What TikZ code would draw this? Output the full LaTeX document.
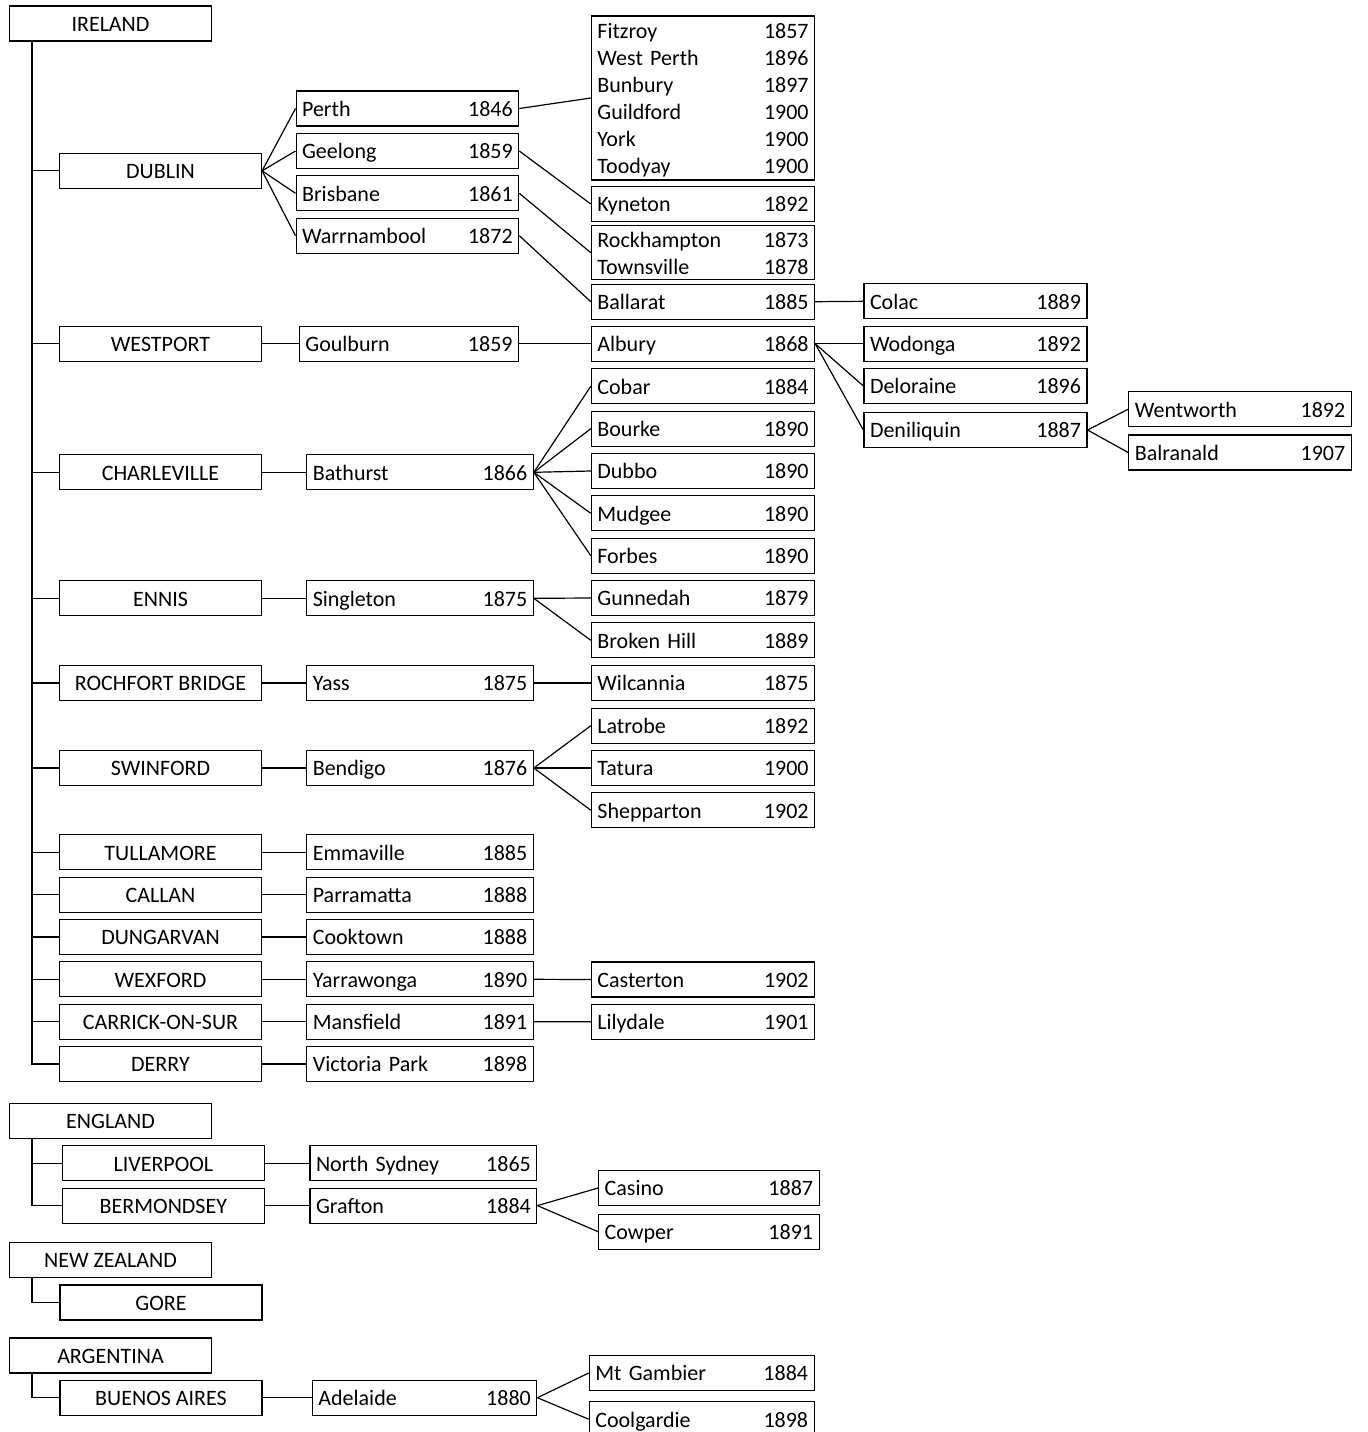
\documentclass[tikz,border=0pt]{standalone}
\usepackage{fontspec}
\setmainfont{Carlito}
\usetikzlibrary{positioning,calc}
\newcommand{\tstrut}{\rule[-2.8pt]{0pt}{13.5pt}}
\newcommand{\yrfill}{\hskip 0pt plus 1filll\relax}
\tikzstyle{region}=[rectangle,draw,minimum width=101pt,minimum height=17.5pt,inner sep=0pt,execute at begin node=\tstrut]
\tikzset{town/.style={rectangle,draw,text width=#1,minimum height=17.5pt,inner xsep=3pt,inner ysep=0pt,align=left,
	execute at begin node=\tstrut,execute at end node=\tstrut}}
\begin{document}
\begin{tikzpicture}[x=0.5pt,y=-0.5pt,line width=0.6pt,font=\fontsize{11}{13.5}\selectfont]
\useasboundingbox (0,0) rectangle (1368,1432);
%-------------------------start region code ---------------------
	\node[region] (ireland) at (110.5,23.5) {IRELAND};
	\node[region] (england) at (110.5,1121) {ENGLAND};
	\node[region] (newzealand) at (110.5,1260) {NEW ZEALAND};
	\node[region] (argentina) at (110.5,1355.5) {ARGENTINA};

	%Irish towns
	\node[region] (dublin) at (160.5,170.8) {DUBLIN};
	\node[region] (westport) at (160.5,343.7) {WESTPORT};
	\node[region] (charleville) at (160.5,472.3) {CHARLEVILLE};
	\node[region] (ennis) at (160.5,598.3) {ENNIS};
	\node[region] (rochfort) at (160.5,683) {ROCHFORT BRIDGE};
	\node[region] (swinford) at (160.5,768) {SWINFORD};
	\node[region] (tullamore) at (160.5,852.3) {TULLAMORE};
	\node[region] (callan) at (160.5,894.7) {CALLAN};
	\node[region] (dungarvan) at (160.5,937) {DUNGARVAN};
	\node[region] (wexford) at (160.5,979.3) {WEXFORD};
	\node[region] (carrick) at (160.5,1021.7) {CARRICK-ON-SUR};
	\node[region] (derry) at (160.5,1064) {DERRY};

	%Other towns
	\node[region] (liverpool) at (163.4,1163.3) {LIVERPOOL};
	\node[region] (bermondsey) at (163.4,1205.6) {BERMONDSEY};
	\node[region] (gore) at (161,1302.5) {GORE};
	\node[region] (buenosaires) at (161,1397.7) {BUENOS AIRES};
%-------------------------end region code -----------------------
%-------------------------start foundation code ------------------
	%Dublin
	\node[town=105.3pt] (perth) at (407.4,108.5) {Perth\yrfill 1846};
	\node[town=105.3pt] (geelong) at (407.4,151) {Geelong\yrfill 1859};
	\node[town=105.3pt] (brisbane) at (407.4,193.3) {Brisbane\yrfill 1861};
	\node[town=105.3pt] (warrnambool) at (407.4,235.7) {Warrnambool\yrfill 1872};
	\node[town=105.6pt,minimum height=82pt] (fitzroy) at (703,98) {Fitzroy\yrfill 1857\\West Perth\yrfill 1896\\Bunbury\yrfill 1897\\Guildford\yrfill 1900\\York\yrfill 1900\\Toodyay\yrfill 1900};
	\node[town=105.6pt] (kyneton) at (703,204) {Kyneton\yrfill 1892};
	\node[town=105.6pt,minimum height=24pt] (rockhampton) at (703,252.7) {Rockhampton\yrfill 1873\\Townsville\yrfill 1878};
	\node[town=105.6pt] (ballarat) at (703,301.7) {Ballarat\yrfill 1885};
	\node[town=105.5pt] (colac) at (975.5,301.3) {Colac\yrfill 1889};

	%Westport
	\node[town=103.6pt] (goulburn) at (409,343.7) {Goulburn\yrfill 1859};
	\node[town=105.6pt] (albury) at (703,343.7) {Albury\yrfill 1868};
	\node[town=105.5pt] (wodonga) at (975.5,343.7) {Wodonga\yrfill 1892};
	\node[town=105.5pt] (deloraine) at (975.5,386) {Deloraine\yrfill 1896};
	\node[town=105.5pt] (deniliquin) at (975.5,430) {Deniliquin\yrfill 1887};
	\node[town=105.2pt] (wentworth) at (1240,409.2) {Wentworth\yrfill 1892};
	\node[town=105.2pt] (balranald) at (1240,452.5) {Balranald\yrfill 1907};

	%Charleville
	\node[town=107.2pt] (bathurst) at (420,472.3) {Bathurst\yrfill 1866};
	\node[town=105.6pt] (cobar) at (703,386.2) {Cobar\yrfill 1884};
	\node[town=105.6pt] (bourke) at (703,428.7) {Bourke\yrfill 1890};
	\node[town=105.6pt] (dubbo) at (703,471) {Dubbo\yrfill 1890};
	\node[town=105.6pt] (mudgee) at (703,513.3) {Mudgee\yrfill 1890};
	\node[town=105.6pt] (forbes) at (703,555.7) {Forbes\yrfill 1890};

	%Ennis
	\node[town=107.2pt] (singleton) at (420,598.3) {Singleton\yrfill 1875};
	\node[town=105.6pt] (gunnedah) at (703,598) {Gunnedah\yrfill 1879};
	\node[town=105.6pt] (brokenhill) at (703,640.3) {Broken Hill\yrfill 1889};

	%Rochfort Bridge
	\node[town=107.2pt] (yass) at (420,683) {Yass\yrfill 1875};
	\node[town=105.6pt] (wilcannia) at (703,683) {Wilcannia\yrfill 1875};

	%Swinford
	\node[town=107.2pt] (bendigo) at (420,768) {Bendigo\yrfill 1876};
	\node[town=105.6pt] (latrobe) at (703,725.7) {Latrobe\yrfill 1892};
	\node[town=105.6pt] (tatura) at (703,768) {Tatura\yrfill 1900};
	\node[town=105.6pt] (shepparton) at (703,810.2) {Shepparton\yrfill 1902};

	%Tullamore to Derry
	\node[town=107.2pt] (emmaville) at (420,852.3) {Emmaville\yrfill 1885};
	\node[town=107.2pt] (parramatta) at (420,894.7) {Parramatta\yrfill 1888};
	\node[town=107.2pt] (cooktown) at (420,937) {Cooktown\yrfill 1888};
	\node[town=107.2pt] (yarrawonga) at (420,979.3) {Yarrawonga\yrfill 1890};
	\node[town=107.2pt] (mansfield) at (420,1021.7) {Mansfield\yrfill 1891};
	\node[town=107.2pt] (victoriapark) at (420,1064) {Victoria Park\yrfill 1898};
	\node[town=105.6pt] (casterton) at (703,979.5) {Casterton\yrfill 1902};
	\node[town=105.6pt] (lilydale) at (703,1021.8) {Lilydale\yrfill 1901};

	%England
	\node[town=107.4pt] (northsydney) at (423.4,1163.3) {North Sydney\yrfill 1865};
	\node[town=107.4pt] (grafton) at (423.4,1205.6) {Grafton\yrfill 1884};
	\node[town=104.2pt] (casino) at (708.9,1188) {Casino\yrfill 1887};
	\node[town=104.2pt] (cowper) at (708.9,1231.7) {Cowper\yrfill 1891};

	%Argentina
	\node[town=106.2pt] (adelaide) at (424.6,1397.7) {Adelaide\yrfill 1880};
	\node[town=106.4pt] (mtgambier) at (701.7,1373) {Mt Gambier\yrfill 1884};
	\node[town=106.4pt] (coolgardie) at (701.7,1419.2) {Coolgardie\yrfill 1898};
%-------------------------end foundation code --------------------
%-------------------------start link code ------------------------
	%Trunks
	\draw (ireland.south west) ++(23,0) coordinate (irlroot) |- (derry.west);
	\foreach \n in {dublin,westport,charleville,ennis,rochfort,swinford,tullamore,callan,dungarvan,wexford,carrick}
		\draw (\n.west) -- (\n.west -| irlroot);
	\draw (england.south west) ++(23,0) coordinate (engroot) |- (bermondsey.west);
	\draw (liverpool.west) -- (liverpool.west -| engroot);
	\draw (newzealand.south west) ++(23,0) |- (gore.west);
	\draw (argentina.south west) ++(23,0) |- (buenosaires.west);

	%First foundations
	\foreach \t in {perth,geelong,brisbane,warrnambool}
		\draw (dublin.east) -- (\t.west);
	\draw (westport.east) -- (goulburn.west);
	\draw (charleville.east) -- (bathurst.west);
	\draw (ennis.east) -- (singleton.west);
	\draw (rochfort.east) -- (yass.west);
	\draw (swinford.east) -- (bendigo.west);
	\draw (tullamore.east) -- (emmaville.west);
	\draw (callan.east) -- (parramatta.west);
	\draw (dungarvan.east) -- (cooktown.west);
	\draw (wexford.east) -- (yarrawonga.west);
	\draw (carrick.east) -- (mansfield.west);
	\draw (derry.east) -- (victoriapark.west);
	\draw (liverpool.east) -- (northsydney.west);
	\draw (bermondsey.east) -- (grafton.west);
	\draw (buenosaires.east) -- (adelaide.west);

	%Later foundations
	\draw (perth.east) -- (fitzroy.west);
	\draw (geelong.east) -- (kyneton.west);
	\draw (brisbane.east) -- (rockhampton.west);
	\draw (warrnambool.east) -- (ballarat.west);
	\draw (ballarat.east) -- (colac.west);
	\draw (goulburn.east) -- (albury.west);
	\foreach \t in {wodonga,deloraine,deniliquin}
		\draw (albury.east) -- (\t.west);
	\foreach \t in {wentworth,balranald}
		\draw (deniliquin.east) -- (\t.west);
	\foreach \t in {cobar,bourke,dubbo,mudgee,forbes}
		\draw (bathurst.east) -- (\t.west);
	\foreach \t in {gunnedah,brokenhill}
		\draw (singleton.east) -- (\t.west);
	\draw (yass.east) -- (wilcannia.west);
	\foreach \t in {latrobe,tatura,shepparton}
		\draw (bendigo.east) -- (\t.west);
	\draw (yarrawonga.east) -- (casterton.west);
	\draw (mansfield.east) -- (lilydale.west);
	\foreach \t in {casino,cowper}
		\draw (grafton.east) -- (\t.west);
	\foreach \t in {mtgambier,coolgardie}
		\draw (adelaide.east) -- (\t.west);
%-------------------------end link code --------------------------
\end{tikzpicture}
\end{document}
